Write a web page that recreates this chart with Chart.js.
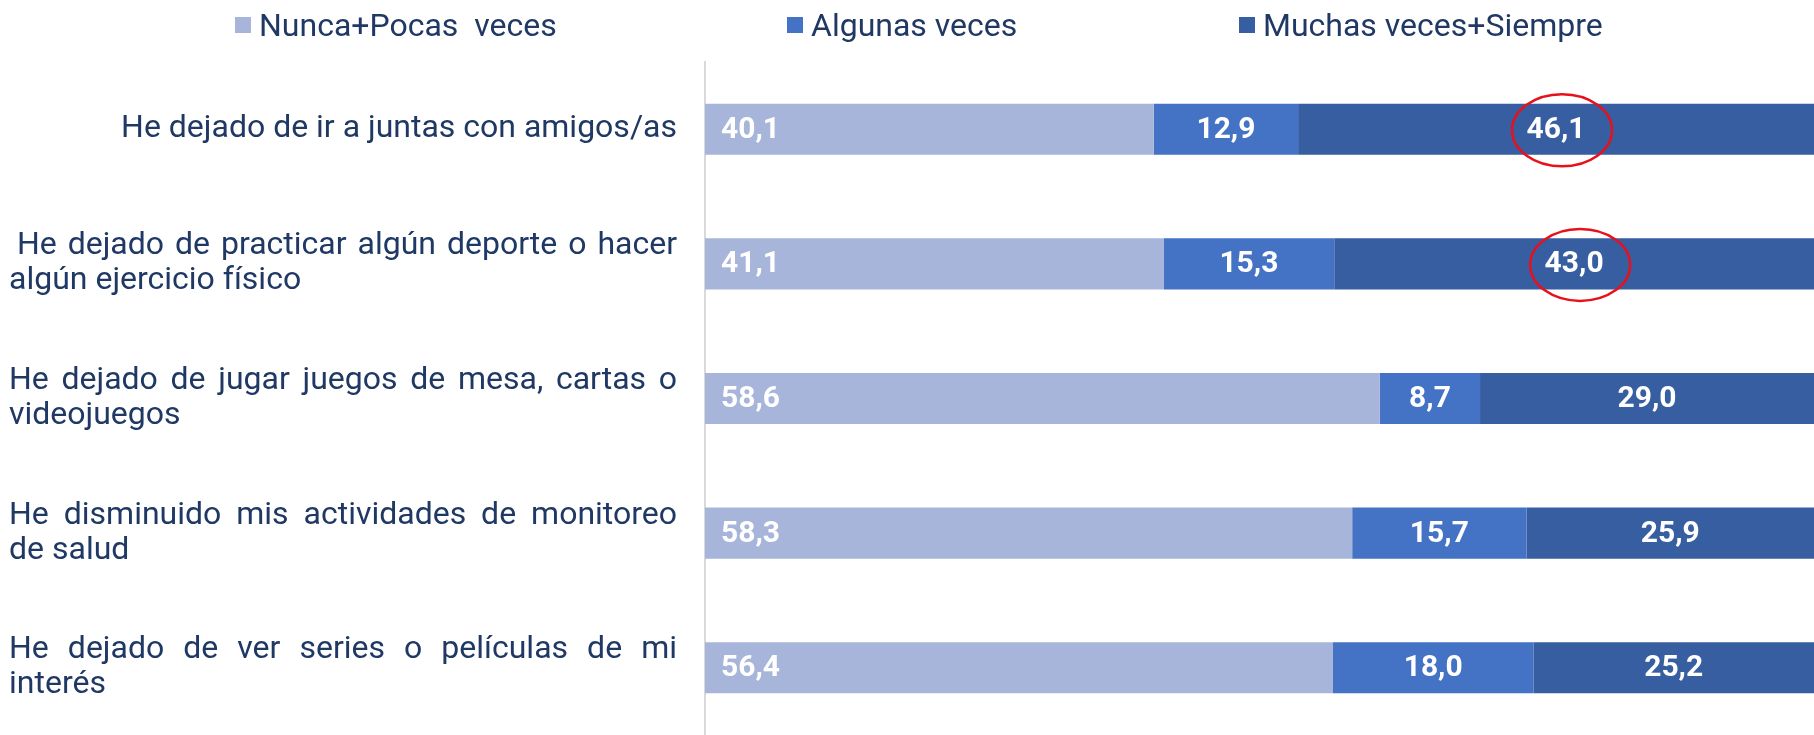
<!DOCTYPE html>
<html lang="es">
<head>
<meta charset="UTF-8">
<title>Actividades dejadas</title>
<script src="https://cdn.jsdelivr.net/npm/chart.js"></script>
<style>
    html, body { margin: 0; padding: 0; background: #fff; overflow: hidden; }
    #wrap { position: relative; width: 1814px; height: 735px; }
    #legend {
        position: absolute; top: 6px; left: 235px;
        display: grid; grid-template-columns: 552px 452px auto;
        font-family: Roboto, sans-serif;
        font-size: 32px; color: #1f3864;
    }
    .item { display: flex; align-items: center; white-space: pre; }
    .box { width: 16px; height: 16px; margin-right: 8px; }
</style>
</head>
<body>
<div id="wrap">
    <canvas id="chart" width="1814" height="735"></canvas>
    <div id="legend"></div>
</div>

<script>
// data
const categories = [
    'He dejado de ir a juntas con amigos/as',
    [' He dejado de practicar algún deporte o hacer', 'algún ejercicio físico'],
    ['He dejado de jugar juegos de mesa, cartas o', 'videojuegos'],
    ['He disminuido mis actividades de monitoreo', 'de salud'],
    ['He dejado de ver series o películas de mi', 'interés']
];
const seriesNames = ['Nunca+Pocas  veces', 'Algunas veces', 'Muchas veces+Siempre'];
const nuncaPocas = [40.1, 41.1, 58.6, 58.3, 56.4];
const algunas = [12.9, 15.3, 8.7, 15.7, 18.0];
const muchas = [46.1, 43.0, 29.0, 25.9, 25.2];
const highlightRows = [0, 1];   // rows with the red circle on the last segment

const colors = ['#a8b5da', '#4472c4', '#365ea1'];
const textColor = '#1f3864';

// bars are 100% stacked, so scale each row by its total
const series = [nuncaPocas, algunas, muchas];
const totals = categories.map((c, i) => series.reduce((s, arr) => s + arr[i], 0));

const datasets = series.map((arr, k) => ({
    label: seriesNames[k],
    raw: arr,
    data: arr.map((v, i) => v / totals[i] * 100),
    backgroundColor: colors[k],
    borderWidth: 0,
    categoryPercentage: 1,
    barPercentage: 0.38
}));

// justified category labels on the left
const catLabels = {
    id: 'catLabels',
    afterDraw(chart) {
        const ctx = chart.ctx;
        const y = chart.scales.y;
        const left = 9, right = 677, lh = 35;
        ctx.save();
        ctx.font = '32px Roboto, sans-serif';
        ctx.fillStyle = textColor;
        ctx.textBaseline = 'middle';
        categories.forEach((c, i) => {
            const lines = Array.isArray(c) ? c : [c];
            const yc = y.getPixelForValue(i);
            lines.forEach((line, j) => {
                const ly = yc + (j - (lines.length - 1) / 2) * lh;
                if (lines.length === 1) {
                    ctx.textAlign = 'right';
                    ctx.fillText(line, right, ly);
                } else if (j < lines.length - 1) {
                    // spread words across the full width (a leading space stays as an indent)
                    let x = left;
                    if (line.startsWith(' ')) x += ctx.measureText(' ').width;
                    const words = line.trim().split(' ');
                    const w = words.reduce((s, wd) => s + ctx.measureText(wd).width, 0);
                    const gap = (right - x - w) / (words.length - 1);
                    ctx.textAlign = 'left';
                    words.forEach(wd => {
                        ctx.fillText(wd, x, ly);
                        x += ctx.measureText(wd).width + gap;
                    });
                } else {
                    ctx.textAlign = 'left';
                    ctx.fillText(line, left, ly);
                }
            });
        });
        ctx.restore();
    }
};

// value labels inside the bars + red circles
const valueLabels = {
    id: 'valueLabels',
    afterDatasetsDraw(chart) {
        const ctx = chart.ctx;
        ctx.save();
        ctx.font = 'bold 30px Roboto, sans-serif';
        ctx.fillStyle = '#ffffff';
        ctx.textBaseline = 'middle';
        chart.data.datasets.forEach((ds, k) => {
            chart.getDatasetMeta(k).data.forEach((bar, i) => {
                const txt = ds.raw[i].toFixed(1).replace('.', ',');
                if (k === 0) {
                    ctx.textAlign = 'left';
                    ctx.fillText(txt, bar.base + 16, bar.y + 1);
                } else {
                    ctx.textAlign = 'center';
                    ctx.fillText(txt, (bar.x + bar.base) / 2, bar.y + 1);
                }
            });
        });
        const last = chart.getDatasetMeta(2).data;
        ctx.strokeStyle = '#e8101a';
        ctx.lineWidth = 2.5;
        highlightRows.forEach(i => {
            const bar = last[i];
            ctx.beginPath();
            ctx.ellipse((bar.x + bar.base) / 2 + 6, bar.y + 1, 50, 36, 0, 0, Math.PI * 2);
            ctx.stroke();
        });
        ctx.restore();
    }
};

const chart = new Chart(document.getElementById('chart'), {
    type: 'bar',
    data: { labels: categories, datasets: datasets },
    options: {
        indexAxis: 'y',
        responsive: false,
        animation: false,
        layout: { padding: { top: 62, right: 0, bottom: 0, left: 0 } },
        scales: {
            x: { stacked: true, min: 0, max: 100, display: false },
            y: {
                stacked: true,
                grid: { display: false },
                border: { display: true, color: '#d9d9d9', width: 2 },
                ticks: { display: false },
                afterFit(scale) { scale.width = 705; }
            }
        },
        plugins: {
            legend: { display: false },
            tooltip: { enabled: false }
        }
    },
    plugins: [catLabels, valueLabels]
});

// legend built from the datasets
const legend = document.getElementById('legend');
chart.data.datasets.forEach(ds => {
    const item = document.createElement('div');
    item.className = 'item';
    const box = document.createElement('span');
    box.className = 'box';
    box.style.background = ds.backgroundColor;
    const txt = document.createElement('span');
    txt.textContent = ds.label;
    item.appendChild(box);
    item.appendChild(txt);
    legend.appendChild(item);
});
</script>
</body>
</html>
